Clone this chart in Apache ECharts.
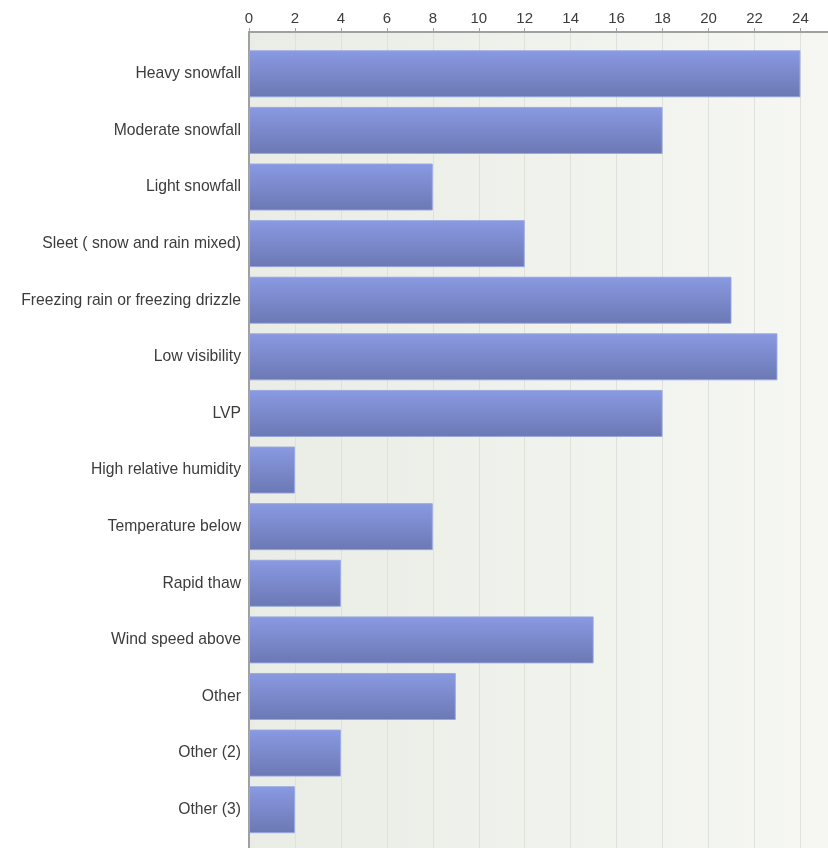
<!DOCTYPE html>
<html>
<head>
<meta charset="utf-8">
<style>
  html, body { margin: 0; padding: 0; background: #ffffff; }
  #chart { width: 828px; height: 848px; }
</style>
<script src="https://cdn.jsdelivr.net/npm/echarts@6/dist/echarts.min.js"></script>
</head>
<body>
<div id="chart"></div>
<script>
// Weather conditions and their counts
const categories = [
  'Heavy snowfall',
  'Moderate snowfall',
  'Light snowfall',
  'Sleet ( snow and rain mixed)',
  'Freezing rain or freezing drizzle',
  'Low visibility',
  'LVP',
  'High relative humidity',
  'Temperature below',
  'Rapid thaw',
  'Wind speed above',
  'Other',
  'Other (2)',
  'Other (3)'
];
const counts = [24, 18, 8, 12, 21, 23, 18, 2, 8, 4, 15, 9, 4, 2];
const tickLabels = [0, 2, 4, 6, 8, 10, 12, 14, 16, 18, 20, 22, 24];

const xMax = 25.2;
const FONT = 'Liberation Sans';
const TEXT_COLOR = '#3c3c3c';

const chart = echarts.init(document.getElementById('chart'), null, { renderer: 'canvas' });

const option = {
  animation: false,
  grid: [
    // background panel with the top axis and vertical grid lines
    {
      left: 249, right: -1, top: 32, bottom: -2,
      show: true,
      borderWidth: 0,
      backgroundColor: new echarts.graphic.LinearGradient(0, 0, 1, 0, [
        { offset: 0, color: '#e9ede5' },
        { offset: 1, color: '#f6f7f3' }
      ])
    },
    // bars panel, inset from the axis line
    { left: 249, right: -1, top: 45.5, bottom: 10 }
  ],
  xAxis: [
    {
      gridIndex: 0,
      type: 'value',
      position: 'top',
      min: 0,
      max: xMax,
      interval: 2,
      axisLine: { show: true, onZero: false, lineStyle: { color: '#a0a0a0', width: 2 } },
      axisTick: { show: true, length: 4, lineStyle: { color: '#a0a0a0' } },
      axisLabel: {
        color: TEXT_COLOR,
        fontFamily: FONT,
        fontSize: 15,
        margin: 6,
        showMaxLabel: false,
        formatter: function (v) { return tickLabels.indexOf(v) >= 0 ? String(v) : ''; }
      },
      splitLine: { show: true, lineStyle: { color: '#dfe1dc', width: 1 } }
    },
    {
      gridIndex: 1,
      type: 'value',
      min: 0,
      max: xMax,
      show: false
    }
  ],
  yAxis: [
    {
      gridIndex: 0,
      type: 'value',
      min: 0,
      max: 1,
      axisLine: { show: true, onZero: false, lineStyle: { color: '#a0a0a0', width: 2 } },
      axisTick: { show: false },
      axisLabel: { show: false },
      splitLine: { show: false }
    },
    {
      gridIndex: 1,
      type: 'category',
      inverse: true,
      data: categories,
      axisLine: { show: false },
      axisTick: { show: false },
      axisLabel: {
        color: TEXT_COLOR,
        fontFamily: FONT,
        fontSize: 15.7,
        margin: 8
      }
    }
  ],
  series: [
    {
      type: 'bar',
      xAxisIndex: 1,
      yAxisIndex: 1,
      data: counts,
      barWidth: 47,
      itemStyle: {
        color: new echarts.graphic.LinearGradient(0, 0, 0, 1, [
          { offset: 0, color: '#8a9ae2' },
          { offset: 1, color: '#6b78b4' }
        ]),
        borderColor: 'rgba(150,165,225,0.9)',
        borderWidth: 1
      }
    }
  ]
};

chart.setOption(option);
</script>
</body>
</html>
